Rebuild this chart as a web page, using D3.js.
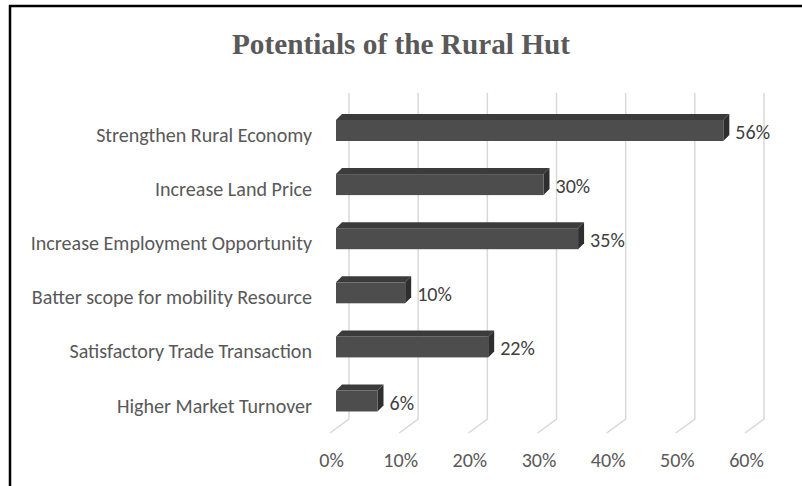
<!DOCTYPE html>
<html>
<head>
<meta charset="utf-8">
<script src="https://cdn.jsdelivr.net/npm/d3@7"></script>
<style>
  html, body { margin: 0; padding: 0; background: #fff; }
  svg { display: block; }
</style>
</head>
<body>
<svg id="chart" width="802" height="486"></svg>
<script>
// Survey results: potentials of the rural hut (share of respondents)
const categories = [
  "Strengthen Rural Economy",
  "Increase Land Price",
  "Increase Employment Opportunity",
  "Batter scope for mobility Resource",
  "Satisfactory Trade Transaction",
  "Higher Market Turnover"
];
const values = [56, 30, 35, 10, 22, 6];
const tickValues = [0, 10, 20, 30, 40, 50, 60];
const titleText = "Potentials of the Rural Hut";

const svg = d3.select("#chart");

// oblique projection of the 3-D plot box
const floorDx = -19, floorDy = 14;   // back wall -> front edge of floor
const barDx = 6, barDy = -6;         // bar front face -> bar back face
const wallTop = 93, wallBottom = 419;

const xBack = d3.scaleLinear().domain([0, 60]).range([349, 764]);
const xBar = d3.scaleLinear().domain([0, 60]).range([336, 751]);
const y = d3.scalePoint().domain(categories).range([130.5, 401]);
const barH = 21;

// frame lines on the top and left
svg.append("path")
  .attr("d", "M10,486 V6 H802")
  .attr("fill", "none")
  .attr("stroke", "#000")
  .attr("stroke-width", 2.5);

// title
const title = svg.append("text")
  .attr("x", 401).attr("y", 44)
  .attr("text-anchor", "middle")
  .attr("dominant-baseline", "central")
  .attr("font-family", "'Liberation Serif', 'Times New Roman', serif")
  .attr("font-weight", "bold")
  .attr("fill", "#595959")
  .attr("font-size", 100)
  .text(titleText);
title.attr("font-size", 100 * 338 / title.node().getComputedTextLength());

// gridlines: back wall verticals with the floor diagonals
const grid = svg.append("g")
  .attr("fill", "none")
  .attr("stroke", "#d9d9d9")
  .attr("stroke-width", 1.5);
grid.selectAll("path").data(tickValues).join("path")
  .attr("d", d => `M${xBack(d)},${wallTop} V${wallBottom} l${floorDx},${floorDy}`);

// axis tick labels below the front edge of the floor
const labelFont = "Calibri, Carlito, Lato, 'Open Sans', sans-serif";
const tickG = svg.append("g")
  .attr("font-family", labelFont)
  .attr("fill", "#595959");
tickG.selectAll("text").data(tickValues).join("text")
  .attr("x", d => xBack(d) - 17.5)
  .attr("y", 460)
  .attr("text-anchor", "middle")
  .attr("dominant-baseline", "central")
  .text(d => d + "%");

// category labels
const catG = svg.append("g")
  .attr("font-family", labelFont)
  .attr("fill", "#595959");
const cats = catG.selectAll("text").data(categories).join("text")
  .attr("x", 312)
  .attr("y", d => y(d) + 4.5)
  .attr("text-anchor", "end")
  .attr("dominant-baseline", "central")
  .text(d => d);

// size the label font so the longest category fits its column
catG.attr("font-size", 100);
const w0 = cats.filter((d, i) => i === 0).node().getComputedTextLength();
const labelSize = 100 * 216 / w0;
catG.attr("font-size", labelSize);
tickG.attr("font-size", labelSize);

// 3-D bars
const data = categories.map((c, i) => ({ cat: c, val: values[i] }));
const bars = svg.append("g").selectAll("g").data(data).join("g");

bars.append("path") // top face
  .attr("fill", "#3b3b3b")
  .attr("d", d => {
    const x0 = xBar(0), x1 = xBar(d.val), yt = y(d.cat) - barH / 2;
    return `M${x0},${yt} L${x0 + barDx},${yt + barDy} L${x1 + barDx},${yt + barDy} L${x1},${yt} Z`;
  });
bars.append("path") // end face
  .attr("fill", "#2e2e2e")
  .attr("d", d => {
    const x1 = xBar(d.val), yt = y(d.cat) - barH / 2, yb = yt + barH;
    return `M${x1},${yt} L${x1 + barDx},${yt + barDy} L${x1 + barDx},${yb + barDy} L${x1},${yb} Z`;
  });
bars.append("rect") // front face
  .attr("fill", "#4d4d4d")
  .attr("x", xBar(0))
  .attr("y", d => y(d.cat) - barH / 2)
  .attr("width", d => xBar(d.val) - xBar(0))
  .attr("height", barH);

// value labels
svg.append("g")
  .attr("font-family", labelFont)
  .attr("font-size", labelSize)
  .attr("fill", "#404040")
  .selectAll("text").data(data).join("text")
  .attr("x", d => xBar(d.val) + barDx + 6)
  .attr("y", d => y(d.cat) + 1.5)
  .attr("dominant-baseline", "central")
  .text(d => d.val + "%");
</script>
</body>
</html>
